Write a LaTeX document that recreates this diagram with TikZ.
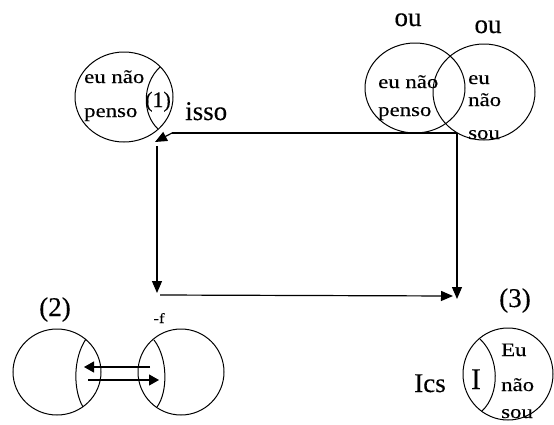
\documentclass[tikz,border=0pt]{standalone}
\usepackage{fontspec}
\setmainfont{Liberation Serif}
\newfontfamily\widefont[FakeStretch=1.2,FakeBold=0.3]{Liberation Serif}
\newfontfamily\bigfont[FakeBold=0.3]{Liberation Serif}
\usetikzlibrary{shapes.geometric,arrows.meta}
\begin{document}
\begin{tikzpicture}[x=1pt,y=-1pt,
  circ/.style={draw,ellipse,inner sep=0pt,line width=1pt},
  lens/.style={line width=1pt},
  ln/.style={line width=1.2pt},
  arr/.style={line width=1.2pt,-{Triangle[length=12pt,width=10pt]}},
  big/.style={font=\bigfont\fontsize{27}{29}\selectfont,inner sep=0pt,anchor=base},
  small/.style={font=\widefont\fontsize{19}{21}\selectfont,inner sep=0pt,anchor=base west},
]
\useasboundingbox (0,0) rectangle (554,424);
% circles
\node[circ,minimum width=98pt,minimum height=90pt] (c1) at (124,97) {};
\node[circ,minimum width=100pt,minimum height=90pt] (c2) at (415,88) {};
\node[circ,minimum width=102pt,minimum height=96pt] (c3) at (484,92) {};
\node[circ,minimum width=88pt,minimum height=86pt] (c4) at (57,372) {};
\node[circ,minimum width=86pt,minimum height=86pt] (c5) at (181,372) {};
\node[circ,minimum width=90pt,minimum height=92pt] (c6) at (508,374) {};
% lens arcs
\draw[lens] (160,67) .. controls (142,84) and (142,114) .. (158,129);
\draw[lens] (86,339) .. controls (73,358) and (73,390) .. (83,407);
\draw[lens] (154,340) .. controls (168,358) and (168,392) .. (157,407);
\draw[lens] (480,339) .. controls (500,358) and (500,394) .. (482,411);
% texts
\node[big] (ou1) at (408,26) {ou};
\node[big] (ou2) at (488,33) {ou};
\node[small] (t1a) at (84,83) {eu não};
\node[small] (t1b) at (84,117) {penso};
\node[font=\bigfont\fontsize{22}{24}\selectfont,inner sep=0pt,anchor=base west] (n1) at (145,107) {(1)};
\node[big,anchor=base west] (isso) at (185,120) {isso};
\node[small] (t2a) at (378,88) {eu não};
\node[small] (t2b) at (378,116) {penso};
\node[small] (t3a) at (468,84) {eu};
\node[small] (t3b) at (468,106) {não};
\node[small] (t3c) at (468,139) {sou};
\node[big] (n2) at (55,316) {(2)};
\node[font=\widefont\fontsize{14}{16}\selectfont,inner sep=0pt,anchor=base] (f) at (159,323) {-f};
\node[big] (n3) at (515,307) {(3)};
\node[big] (ics) at (430,392) {Ics};
\node[big,font=\bigfont\fontsize{30}{32}\selectfont] (ii) at (476,389) {I};
\node[small] (t6a) at (501,356) {Eu};
\node[small] (t6b) at (501,391) {não};
\node[small] (t6c) at (501,418) {sou};
% connectors
\coordinate (j) at (457,133);
\coordinate (k) at (172,133);
\coordinate (tipA) at (155,142);
\coordinate (v1) at (157,146);
\coordinate (v2) at (157,293);
\coordinate (h1) at (160,295);
\coordinate (h2) at (453,296);
\coordinate (v3) at (457,299);
\draw[ln] (j) -- (k);
\draw[arr] (k) -- (tipA);
\draw[arr] (j) -- (v3);
\draw[arr] (v1) -- (v2);
\draw[arr] (h1) -- (h2);
\coordinate (a1s) at (150,367);
\coordinate (a1e) at (84,367);
\coordinate (a2s) at (88,380);
\coordinate (a2e) at (159,380);
\draw[ln,-{Triangle[length=10pt,width=11pt]}] (a1s) -- (a1e);
\draw[ln,-{Triangle[length=10pt,width=11pt]}] (a2s) -- (a2e);
\end{tikzpicture}
\end{document}
